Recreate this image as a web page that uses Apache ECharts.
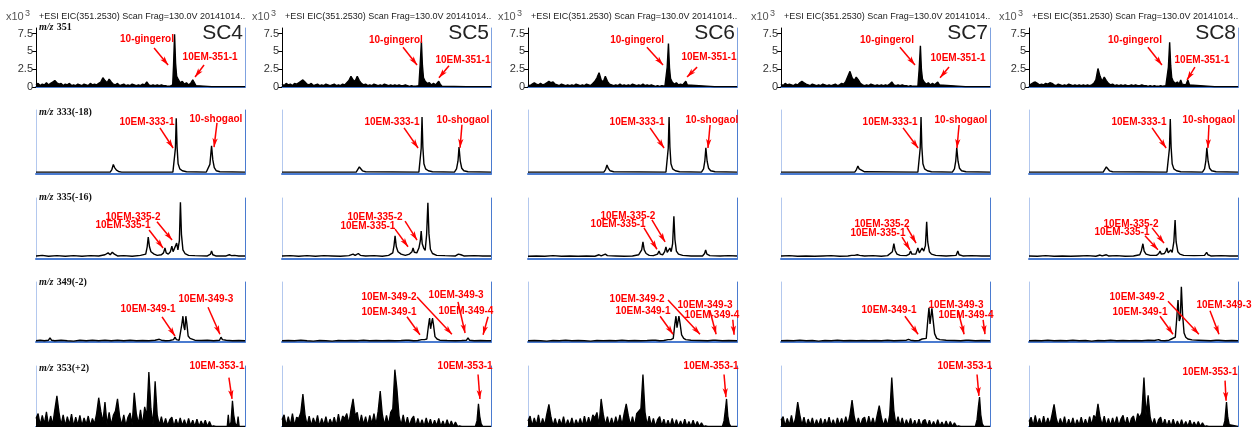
<!DOCTYPE html>
<html>
<head>
<meta charset="utf-8">
<script src="https://cdn.jsdelivr.net/npm/echarts@6/dist/echarts.min.js"></script>
<style>
html,body{margin:0;padding:0;background:#fff;}
#chart{width:1252px;height:427px;}
</style>
</head>
<body>
<div id="chart"></div>
<script>
// Samples (columns) and extracted-ion channels (rows)
const samples = ['SC4', 'SC5', 'SC6', 'SC7', 'SC8'];
const channelLabels = ['351', '333(-18)', '335(-16)', '349(-2)', '353(+2)'];
const headerText = '+ESI EIC(351.2530) Scan Frag=130.0V 20141014..';
const tickValues351 = [0, 2.5, 5, 7.5];

// ---- m/z 351 (intensity x10^3): baseline at unit steps, then peak region as [t, I] ----
const sc4_351_base = [0.3,0.5,0.2,0.4,0.3,0.6,0.3,0.5,0.7,0.9,0.6,0.4,0.5,0.2,0.4,0.3,0.5,0.2,0.3,0.2,0.4,0.3,0.2,0.4,0.3,0.2,0.5,0.3,0.4,0.3,0.5,0.7,1.3,0.9,0.6,1.1,0.7,0.4,0.3,0.5,0.2,0.3,0.4,0.2,0.3,0.2,0.4,0.3,0.2,0.3,0.2,0.4,0.3,0.7,0.3,0.2,0.3,0.2,0.3,0.2,0.3,0.2,0.2,0.1,0.1];
const sc4_351_peaks = [[65.4,0.3],[65.8,3.0],[66.3,7.4],[66.8,3.3],[67.3,1.5],[68,1.1],[69,0.6],[70,0.8],[71,0.4],[72,0.6],[73,0.3],[74,0.5],[75,1.0],[75.8,0.6],[76.5,0.2],[77.2,0.05],[84,0.05],[84.4,0.25],[84.8,0.05],[88.3,0.05],[88.7,0.25],[89.1,0.05],[100,0.05]];
const sc5_351_base = [0.4,0.2,0.5,0.3,0.4,0.2,0.5,0.4,0.6,0.8,1.0,0.7,0.4,0.3,0.5,0.2,0.3,0.4,0.2,0.3,0.2,0.4,0.3,0.2,0.3,0.4,0.2,0.3,0.2,0.4,0.3,0.6,0.9,1.5,1.0,0.8,1.5,0.9,0.5,0.3,0.4,0.2,0.3,0.2,0.4,0.3,0.2,0.3,0.2,0.4,0.3,0.2,0.3,0.2,0.3,0.2,0.3,0.2,0.2,0.3,0.2,0.1,0.2,0.1,0.1];
const sc5_351_peaks = [[65.5,0.2],[66.1,3.1],[66.7,6.4],[67.2,3.0],[67.7,1.3],[68.5,0.8],[69.5,0.5],[70.5,0.6],[71.5,0.3],[72.5,0.5],[73.5,0.3],[74.3,0.4],[75,0.8],[75.7,0.4],[76.5,0.1],[77.2,0.05],[88.2,0.05],[88.6,0.3],[89,0.05],[100,0.05]];
const sc6_351_base = [0.3,0.2,0.4,0.6,0.4,0.3,0.5,0.3,0.4,0.6,0.8,0.6,0.7,0.4,0.3,0.2,0.4,0.3,0.2,0.3,0.2,0.3,0.2,0.4,0.3,0.2,0.3,0.2,0.4,0.3,0.2,0.5,0.8,1.3,2.0,1.0,0.7,1.5,0.8,0.4,0.3,0.2,0.3,0.2,0.4,0.2,0.3,0.2,0.3,0.2,0.4,0.3,0.2,0.3,0.2,0.4,0.2,0.3,0.2,0.3,0.2,0.1,0.2,0.1,0.2];
const sc6_351_peaks = [[65.5,0.1],[66,0.2],[66.6,2.8],[67.2,6.1],[67.7,2.7],[68.2,1.2],[69,0.7],[70,0.4],[71,0.6],[72,0.3],[73,0.4],[74,0.3],[74.8,0.5],[75.5,0.8],[76.2,0.3],[77,0.05],[89.2,0.05],[89.6,0.2],[90,0.05],[100,0.05]];
const sc7_351_base = [0.4,0.2,0.5,0.3,0.4,0.3,0.2,0.4,0.3,0.6,0.8,0.6,0.4,0.3,0.2,0.4,0.3,0.2,0.3,0.2,0.4,0.3,0.2,0.3,0.2,0.3,0.4,0.2,0.3,0.5,0.4,0.8,1.5,2.2,1.3,0.9,1.4,1.0,0.5,0.3,0.2,0.3,0.2,0.4,0.3,0.2,0.3,0.2,0.3,0.2,0.3,0.2,0.4,0.7,0.3,0.2,0.3,0.2,0.3,0.2,0.2,0.1,0.2,0.1,0.1];
const sc7_351_peaks = [[65.5,0.1],[66.1,2.5],[66.7,5.8],[67.2,2.4],[67.7,1.1],[68.5,0.7],[69.5,0.4],[70.5,0.6],[71.5,0.3],[72.5,0.5],[73.5,0.3],[74.3,0.5],[75,0.7],[75.8,0.3],[76.5,0.05],[88.2,0.05],[88.6,0.3],[89,0.05],[100,0.05]];
const sc8_351_base = [0.3,0.4,0.6,0.7,0.5,0.3,0.4,0.3,0.5,0.4,0.6,0.5,0.3,0.2,0.4,0.3,0.2,0.3,0.2,0.4,0.3,0.2,0.3,0.2,0.3,0.2,0.3,0.2,0.3,0.2,0.3,0.5,1.0,2.6,1.5,0.8,1.4,0.9,0.5,0.3,0.4,0.2,0.3,0.2,0.3,0.2,0.3,0.2,0.2,0.3,0.2,0.3,0.2,0.2,0.3,0.2,0.2,0.1,0.2,0.1,0.2,0.1,0.1,0.2,0.1];
const sc8_351_peaks = [[65.5,0.2],[66.1,0.3],[66.7,2.8],[67.3,6.3],[67.8,3.0],[68.3,1.3],[69,0.8],[70,0.5],[71,0.7],[71.8,0.4],[72.6,1.0],[73.3,0.4],[74.2,0.6],[75.1,0.3],[76,1.0],[76.8,0.3],[77.6,0.05],[88.8,0.05],[89.2,0.3],[89.6,0.05],[100,0.05]];

// ---- m/z 333(-18), relative intensity [t, I] ----
const sc4_333 = [[0,3],[6.2,3],[6.7,4.5],[7.2,3],[35.5,3],[36.3,7],[37,15],[37.6,10],[38.5,6],[39.5,4],[41,3],[65.5,3],[66.2,5],[66.7,40],[67.1,87],[67.5,42],[68,16],[68.8,8],[70,5],[72,3.5],[81.5,3],[82.3,4.5],[83.2,15],[84,44],[84.6,22],[85.3,10],[86.3,5],[88,3.5],[100,3]];
const sc5_333 = [[0,3],[35.5,3],[36.3,6],[37,11],[37.6,8],[38.5,5],[40,3.5],[65.5,3],[66.2,5],[66.6,40],[67,89],[67.4,42],[67.9,16],[68.7,8],[70,5],[72,3.5],[82.5,3],[83.5,8],[84.2,20],[84.7,42],[85.3,20],[86,9],[87,5],[89,3.5],[100,3]];
const sc6_333 = [[0,3],[36.3,3],[37.1,7],[37.8,14],[38.4,9],[39.3,5],[41,3.5],[66,3],[66.7,5],[67.1,40],[67.5,89],[67.9,42],[68.4,16],[69.2,8],[70.5,5],[72.5,3.5],[83,3],[84,8],[84.6,20],[85.1,41],[85.7,20],[86.4,9],[87.4,5],[89.5,3.5],[100,3]];
const sc7_333 = [[0,3],[35.3,3],[36.1,7],[36.8,12.5],[37.4,8],[38.3,5],[40,3.5],[65.5,3],[66.2,5],[66.6,40],[67,89],[67.4,42],[67.9,16],[68.7,8],[70,5],[72,3.5],[82,3],[83,8],[83.6,20],[84.1,41],[84.7,20],[85.4,9],[86.4,5],[88.5,3.5],[100,3]];
const sc8_333 = [[0,3],[35.5,3],[36.3,6],[37,11],[37.6,8],[38.5,5],[40,3.5],[66,3],[66.8,5],[67.2,40],[67.6,86],[68,42],[68.5,16],[69.3,8],[70.6,5],[72.6,3.5],[83,3],[84,8],[84.6,20],[85.1,41],[85.7,20],[86.4,9],[87.4,5],[89.5,3.5],[100,3]];

// ---- m/z 335(-16) ----
const sc4_335 = [[0,5],[3,6],[6,4.5],[10,5.5],[14,4.5],[18,5.5],[22,4.5],[26,5.5],[30,5],[33,7],[34.5,10],[35.5,7],[36.5,11],[37.5,8],[39,5],[42,5.5],[46,4.5],[50,6],[52.5,8],[53.2,20],[53.7,36],[54.3,20],[55,12],[56.5,8],[58,6],[60,7],[61,10],[61.7,18],[62.3,10],[63.3,8],[64.3,12],[65,21],[65.6,12],[66.5,14],[67.3,26],[67.9,15],[68.6,30],[69.1,93],[69.6,40],[70.3,15],[71.3,9],[73,6],[76,5.5],[82,5],[83.5,8],[84,13],[84.6,7],[86,5],[91,5],[92.5,7],[93.5,5.5],[95,6],[97,5],[100,5]];
const sc5_335 = [[0,5],[4,5.5],[8,4.5],[12,5.5],[16,4.5],[20,5.5],[24,5],[28,4.5],[32,5.5],[34,8],[35,6],[36.5,9],[37.5,6],[40,5],[44,5.5],[48,4.5],[51,6],[53,10],[53.6,22],[54.1,38],[54.7,20],[55.5,12],[57,8],[59,6],[61,8],[62.2,12],[62.7,18],[63.3,11],[64.5,10],[65.5,18],[66.2,30],[66.6,46],[67.1,25],[67.8,18],[68.5,14],[69.2,40],[69.8,92],[70.3,42],[71,16],[72,9],[74,6],[78,5.5],[83,5],[84.4,8],[85,11],[85.6,7],[87,5],[92,5.5],[96,5],[100,5]];
const sc6_335 = [[0,4.5],[4,5],[8,4.5],[12,5.5],[16,4.5],[20,5],[24,4.5],[28,5],[32,4.5],[34,7],[35,5],[37,8],[38,5.5],[42,5],[46,4.5],[50,5],[53,7],[54.4,15],[55,28],[55.6,15],[56.5,9],[58,6],[60,5.5],[62,8],[62.7,13],[63.3,8],[64.5,7],[65.4,12],[66,20],[66.6,11],[67.3,11],[67.9,18],[68.5,12],[69.2,25],[69.8,70],[70.3,32],[71,13],[72,8],[74,6],[78,5],[83.5,5],[84.5,9],[85,15],[85.6,8],[87,5.5],[92,5],[96,5.5],[100,5]];
const sc7_335 = [[0,5],[4,5.5],[8,4.5],[12,5],[16,4.5],[20,5],[24,5.5],[28,4.5],[32,5],[33.8,6],[34.5,9],[35.2,6],[36.5,7],[37,8.5],[37.6,6],[40,5],[44,5.5],[48,4.5],[51,5.5],[53.3,12],[54,25],[54.6,14],[55.5,8],[57,6],[60,5.5],[61.4,8],[62,13],[62.6,8],[64.5,8],[65.5,18],[66.2,10],[66.8,10],[67.5,18],[68.3,13],[69.1,22],[69.7,61],[70.2,28],[71,12],[72,8],[74,6],[79,5],[83.8,6],[84.6,13],[85.2,7],[87,5],[91,5.5],[96,5],[100,5]];
const sc8_335 = [[0,5],[4,4.5],[8,5.5],[12,4.5],[16,5],[20,4.5],[24,5],[28,5.5],[32,4.5],[34,6.5],[35,5],[37,7],[38,5],[42,5.5],[46,4.5],[50,5],[53,7],[53.8,14],[54.5,25],[55.1,13],[56,8],[58,6],[61,6],[62.1,9],[62.7,13],[63.3,8],[64.8,9],[65.5,13],[66,18],[66.6,10],[67.2,9],[67.8,15],[68.5,11],[69.3,28],[69.9,64],[70.4,28],[71.2,12],[72.2,8],[74,6],[79,5.5],[84,6],[85,11],[85.6,7],[87,5],[92,5.5],[96,5],[100,5]];

// ---- m/z 349(-2) ----
const sc4_349 = [[0,2],[2,3],[4,2],[6,3],[6.7,7],[7.4,3],[9,2],[12,3],[15,2],[18,1.5],[21,3],[24,2],[27,3],[30,2],[33,3],[36,2],[39,3],[42,2],[45,3],[48,2],[51,2.5],[54,2],[57,3],[59,4.5],[60,3],[62,2],[64,2.5],[65.8,4],[66.5,8],[67.2,4],[68.5,3],[69.2,6],[69.8,30],[70.3,43],[70.8,25],[71.2,20],[71.7,43],[72.2,30],[72.8,10],[73.7,6],[74.5,4],[76,3],[79,2.5],[82,3],[85,2],[87.8,3],[88.5,8],[89.2,4],[91,3],[94,2],[97,2.5],[100,2]];
const sc5_349 = [[0,2],[3,2.5],[6,2],[9,3],[12,2],[15,1.5],[18,2.5],[21,2],[24,1.5],[27,2.5],[30,2],[33,2.5],[36,2],[39,3],[42,2],[45,2.5],[48,2],[51,2.5],[54,2],[57,2.5],[59.3,3],[60,5],[60.7,3],[63,2],[65,2.5],[66.8,4],[67.5,7],[68.2,4],[69.3,5],[70,25],[70.6,40],[71.1,22],[71.5,20],[72,40],[72.5,28],[73.2,9],[74.2,5],[75.5,3],[79,2.5],[83,2],[86,2.5],[88.3,3],[89,7],[89.7,3],[92,2],[95,2.5],[98,2],[100,2]];
const sc6_349 = [[0,2],[3,2.5],[6,2],[9,1.5],[12,2.5],[15,2],[18,3],[21,2],[24,2.5],[27,2],[30,1.5],[33,2.5],[36,2],[39,2.5],[42,2],[45,3],[48,2],[51,2.5],[54,2],[57,2.5],[59.5,3],[60.2,4.5],[61,3],[63,2],[65,2.5],[67,4],[67.7,6],[68.4,4],[69.5,6],[70.2,28],[70.8,43],[71.3,24],[71.7,22],[72.2,43],[72.8,30],[73.5,12],[74.5,6],[75.5,4],[78,3],[82,2.5],[86,2],[88.5,3],[89.1,6],[89.7,3],[93,2],[96,2.5],[100,2]];
const sc7_349 = [[0,2],[3,2.5],[6,2],[9,3],[12,2],[15,2.5],[18,1.5],[21,2.5],[24,2],[27,3],[30,2],[33,2.5],[36,2],[39,2.5],[42,2],[45,2.5],[48,2],[51,3],[54,2],[57,2.5],[60,3],[61,4.5],[62,3],[64,2],[66,2.5],[67.5,5],[68.3,3.5],[69.5,6],[70.2,35],[70.8,57],[71.3,30],[71.7,28],[72.2,56],[72.8,36],[73.5,14],[74.5,6],[76,4],[79,3],[83,2.5],[86,2],[88.5,3],[89.2,6],[89.8,3],[93,2],[96,2.5],[100,2]];
const sc8_349 = [[0,2],[3,2.5],[6,2],[9,3],[12,2],[15,2.5],[18,2],[21,3],[24,2],[27,2.5],[30,1.5],[33,2.5],[36,2],[39,3],[42,2],[45,2.5],[48,2],[51,2.5],[54,2],[57,3],[60,2.5],[62,4],[63,2.5],[65,2],[67,3],[68.2,5],[69,3.5],[70,8],[70.7,40],[71.3,70],[71.9,35],[72.4,40],[72.9,92],[73.5,45],[74.2,15],[75,8],[76,5],[78,3.5],[81,3],[84,2.5],[87,2],[89.5,3],[90.2,5],[90.8,3],[94,2],[97,2.5],[100,2]];

// ---- m/z 353(+2): noisy trace at unit steps, then the late region as [t, I] ----
const sc4_353_base = [14,22,3,19,5,25,2,18,4,28,51,24,3,20,2,17,4,21,1,16,3,19,2,15,4,18,2,14,5,22,48,26,8,41,4,24,3,19,26,46,18,3,20,2,16,23,4,56,22,5,28,3,33,18,90,30,4,75,20,3,17,2,14,2,12,16,1,13,2,15,2,12,1,14,2,11,1,13,1,10,2,11,1,9,1,2];
const sc4_353_late = [[86,1],[91.5,1],[92,20],[92.5,1],[93.3,8],[94,43],[94.6,20],[95.3,6],[96.2,2],[96.7,17],[97.2,1],[100,1]];
const sc5_353_base = [12,20,2,17,3,22,2,16,14,24,54,20,3,18,2,15,4,19,1,14,3,17,2,13,4,16,2,21,3,18,14,22,5,28,46,19,24,3,20,4,17,2,19,5,22,4,26,59,21,3,19,4,24,30,94,62,18,3,20,2,16,2,13,18,1,14,2,12,1,15,2,13,1,11,2,14,1,10,1,12,1,10,1,8,1,2];
const sc5_353_late = [[86,1],[92.5,1],[93.3,10],[94,38],[94.6,18],[95.3,5],[96,1],[100,1]];
const sc6_353_base = [10,18,2,15,3,20,1,14,3,21,37,16,2,14,1,13,3,17,1,12,2,15,1,12,3,14,2,18,3,16,4,20,15,24,3,46,21,3,17,2,15,2,17,4,20,3,22,38,19,3,17,2,22,26,30,86,24,3,18,2,14,1,12,17,2,13,1,11,1,14,1,12,1,10,1,13,1,9,1,11,1,9,1,7,1,2];
const sc6_353_late = [[86,1],[93,1],[93.8,10],[94.5,30],[95,46],[95.6,18],[96.3,5],[97,1],[100,1]];
const sc7_353_base = [11,17,2,14,3,19,2,15,41,20,3,16,1,13,3,15,1,12,2,14,1,13,3,16,2,12,1,15,3,14,2,17,4,20,44,18,3,15,2,13,16,2,18,3,15,2,19,35,16,2,14,2,20,81,27,3,17,2,15,1,12,2,14,1,11,1,13,1,10,12,1,11,1,9,1,12,1,8,1,10,1,9,1,7,1,2];
const sc7_353_late = [[86,1],[93,1],[93.8,12],[94.5,35],[95,49],[95.6,20],[96.3,5],[97,1],[100,1]];
const sc8_353_base = [9,16,2,19,3,14,2,18,3,15,4,20,37,15,2,14,3,17,1,13,2,15,1,12,3,16,2,13,2,17,3,19,14,38,16,3,18,2,14,2,15,3,17,2,13,19,3,16,2,14,18,3,22,15,24,81,20,52,16,3,14,1,12,16,2,13,1,11,1,13,1,10,1,12,1,9,1,11,1,8,1,9,1,7,1,2];
const sc8_353_late = [[86,1],[93,1],[93.7,10],[94.5,41],[95.1,16],[95.8,4],[96.5,1],[100,1]];

// ---- Peak annotations: [text, labelT, labelI, arrowFromT, arrowFromI, arrowToT, arrowToI] ----
const notes351 = [
  [['10-gingerol',53.1,6.75,56.5,5.5,63.2,3.1],['10EM-351-1',83.3,4.2,80.4,3.1,76.1,1.4]],
  [['10-gingerol',54.5,6.6,57.9,5.6,64.6,3.1],['10EM-351-1',86.6,3.8,79.9,3.0,75.1,1.3]],
  [['10-gingerol',52.2,6.6,56.9,5.6,64.6,3.1],['10EM-351-1',86.6,4.2,80.9,2.8,76.1,1.4]],
  [['10-gingerol',50.7,6.6,56.9,5.6,64.1,3.1],['10EM-351-1',84.7,4.1,80.4,2.8,76.1,1.3]],
  [['10-gingerol',50.7,6.6,56.9,5.6,63.6,3.1],['10EM-351-1',82.8,3.7,79.4,2.8,75.6,1.0]]
];
const notes333 = [
  [['10EM-333-1',53.1,81,59.3,72,65.6,40.6],['10-shogaol',86.1,86,86.6,80,85.2,42]],
  [['10EM-333-1',52.6,81,58.4,72,65.1,40.6],['10-shogaol',86.6,84,86.1,77,85.2,41]],
  [['10EM-333-1',52.2,81,58.4,72,65.1,40.6],['10-shogaol',88,84,87.1,76.6,86.1,40.6]],
  [['10EM-333-1',52.2,81,58.4,72,65.6,40.6],['10-shogaol',86.1,84,85.2,76.6,84.2,40.6]],
  [['10EM-333-1',52.6,81,58.9,72,65.6,40.6],['10-shogaol',86.1,84,86.1,76.6,85.6,40.6]]
];
const notes335 = [
  [['10EM-335-2',46.4,69,57.9,61,65.1,31],['10EM-335-1',41.6,56,54.1,47.5,60.8,18]],
  [['10EM-335-2',44.5,69,58.9,62,64.6,31],['10EM-335-1',41.1,54,54.1,49,60.3,20]],
  [['10EM-335-2',47.8,70.5,59.3,64,65.6,28],['10EM-335-1',43.1,57,55.5,51,61.7,16]],
  [['10EM-335-2',48.3,57,60.3,52,64.6,26],['10EM-335-1',46.4,43,57.9,36,61.7,15]],
  [['10EM-335-2',48.8,57,58.9,51,64.6,26],['10EM-335-1',44.5,44,55.5,38,61.7,15]]
];
const notes349 = [
  [['10EM-349-1',53.6,55,60.3,42,66.5,10],['10EM-349-3',81.3,72,82.3,58,88,13]],
  [['10EM-349-2',51.2,75,64.6,75,81.3,13],['10EM-349-1',51.2,50,59.8,42,66,12],['10EM-349-3',83.3,78,84.2,67,87.6,15],['10EM-349-4',88,52,98.6,42,96.2,12]],
  [['10EM-349-2',52.2,72,67,70,82.3,13],['10EM-349-1',55,52,63.2,43,69.4,13],['10EM-349-3',84.7,62,87,53,90,13],['10EM-349-4',88,45,98,37,98.6,12]],
  [['10EM-349-1',51.7,53,59.3,43,65.6,13],['10EM-349-3',83.7,62,84.7,52,87.6,13],['10EM-349-4',88.5,45,96.7,37,97.6,13]],
  [['10EM-349-2',51.7,75,66.5,68,81.3,13],['10EM-349-1',53.1,50,62.7,43,68.9,13],['10EM-349-3',93.3,62,86.6,52,90.9,13]]
];
const notes353 = [
  [['10EM-353-1',86.6,99.5,92.3,81,93.8,46]],
  [['10EM-353-1',87.6,99.5,93.8,86,94.7,46]],
  [['10EM-353-1',87.6,99.5,93.8,86,94.7,49]],
  [['10EM-353-1',88,99.5,93.8,86,94.7,51]],
  [['10EM-353-1',86.6,90,93.8,76,94.3,43]]
];

// ---- assemble traces ----
function joinTrace(steps, pairs) {
  return steps.map((v, i) => [i, v]).concat(pairs);
}
const traces = [
  [joinTrace(sc4_351_base, sc4_351_peaks), joinTrace(sc5_351_base, sc5_351_peaks), joinTrace(sc6_351_base, sc6_351_peaks), joinTrace(sc7_351_base, sc7_351_peaks), joinTrace(sc8_351_base, sc8_351_peaks)],
  [sc4_333, sc5_333, sc6_333, sc7_333, sc8_333],
  [sc4_335, sc5_335, sc6_335, sc7_335, sc8_335],
  [sc4_349, sc5_349, sc6_349, sc7_349, sc8_349],
  [joinTrace(sc4_353_base, sc4_353_late), joinTrace(sc5_353_base, sc5_353_late), joinTrace(sc6_353_base, sc6_353_late), joinTrace(sc7_353_base, sc7_353_late), joinTrace(sc8_353_base, sc8_353_late)]
];
const notes = [notes351, notes333, notes335, notes349, notes353];

// ---- layout ----
const colLeft = [36, 282, 528, 781, 1029];
const colWidth = 209;
const rowTop = [28, 110, 198, 282, 366];
const rowHeight = [59, 64, 61, 60, 63];
const rowMax = [8.3, 100, 100, 100, 100];
const rowLineWidth = [1.4, 1.4, 1.4, 1.4, 1.3];
// the densely sampled noisy channels read as a solid mass under the trace
const rowFilled = [true, false, false, false, true];
const RED = '#ff0000';
const SANS = '"Liberation Sans", Arial, sans-serif';
const SERIF = '"Liberation Serif", "Times New Roman", serif';

const grid = [], xAxis = [], yAxis = [], series = [];
for (let r = 0; r < 5; r++) {
  for (let c = 0; c < 5; c++) {
    const p = r * 5 + c;
    grid.push({ left: colLeft[c], top: rowTop[r], width: colWidth, height: rowHeight[r] });
    xAxis.push({
      type: 'value', gridIndex: p, min: 0, max: 100,
      axisLine: { show: true, onZero: false, lineStyle: { color: '#4a7bd0', width: 2 } },
      axisTick: { show: false }, axisLabel: { show: false }, splitLine: { show: false }
    });
    const leftAxis = {
      type: 'value', gridIndex: p, position: 'left', min: 0, max: rowMax[r],
      splitLine: { show: false }
    };
    if (r === 0) {
      leftAxis.axisLine = { show: true, lineStyle: { color: '#000', width: 1 } };
      leftAxis.axisTick = { show: true, length: 4, customValues: tickValues351, lineStyle: { color: '#000' } };
      leftAxis.axisLabel = { show: true, customValues: tickValues351, margin: 3, fontSize: 11, fontFamily: SANS, color: '#333' };
    } else {
      leftAxis.axisLine = { show: true, lineStyle: { color: '#b3c8ee', width: 1 } };
      leftAxis.axisTick = { show: false };
      leftAxis.axisLabel = { show: false };
    }
    yAxis.push(leftAxis);
    yAxis.push({
      type: 'value', gridIndex: p, position: 'right', min: 0, max: rowMax[r],
      axisLine: { show: true, lineStyle: { color: r === 0 ? '#7fa2e0' : '#4a7bd0', width: 1 } },
      axisTick: { show: false }, axisLabel: { show: false }, splitLine: { show: false }
    });
    const ann = notes[r][c];
    const s = {
      type: 'line', xAxisIndex: p, yAxisIndex: 2 * p,
      data: traces[r][c], showSymbol: false, symbol: 'none', clip: false,
      silent: true, animation: false,
      lineStyle: { color: '#000', width: rowLineWidth[r] },
      markLine: {
        silent: true, animation: false, symbol: ['none', 'arrow'], symbolSize: [4, 9],
        lineStyle: { color: RED, width: 1.5, type: 'solid' },
        label: { show: false }, emphasis: { disabled: true },
        data: ann.map(n => [{ coord: [n[3], n[4]] }, { coord: [n[5], n[6]] }])
      },
      markPoint: {
        silent: true, animation: false, symbol: 'circle', symbolSize: 1,
        itemStyle: { color: 'rgba(0,0,0,0)' },
        label: { show: true, position: 'inside', formatter: '{b}', color: RED, fontWeight: 'bold', fontSize: 10, fontFamily: SANS },
        data: ann.map(n => ({ name: n[0], coord: [n[1], n[2]] }))
      }
    };
    if (rowFilled[r]) s.areaStyle = { color: '#000', opacity: 1, origin: 'start' };
    series.push(s);
  }
}

// ---- header texts, sample names and channel labels ----
const graphic = [];
samples.forEach((s, c) => {
  const L = colLeft[c];
  graphic.push({ type: 'text', x: L - 30, y: 17, silent: true,
    style: { text: 'x10', font: '11px ' + SANS, fill: '#555', verticalAlign: 'middle' } });
  graphic.push({ type: 'text', x: L - 11, y: 14, silent: true,
    style: { text: '3', font: '9px ' + SANS, fill: '#555', verticalAlign: 'middle' } });
  graphic.push({ type: 'text', x: L + 3, y: 17, silent: true,
    style: { text: headerText, font: '9px ' + SANS, fill: '#222', verticalAlign: 'middle' } });
  graphic.push({ type: 'text', x: L + colWidth - 2, y: 33, silent: true,
    style: { text: s, font: '21px ' + SANS, fill: '#222', align: 'right', verticalAlign: 'middle' } });
});
const channelY = [27, 112, 197, 282, 368];
channelLabels.forEach((lab, r) => {
  graphic.push({ type: 'text', x: colLeft[0] + 3, y: channelY[r], silent: true,
    style: {
      text: '{i|m/z} {b|' + lab + '}', verticalAlign: 'middle',
      rich: {
        i: { font: 'italic bold 10px ' + SERIF, fill: '#111' },
        b: { font: 'bold 10px ' + SERIF, fill: '#111' }
      }
    } });
});

const chart = echarts.init(document.getElementById('chart'), null, { renderer: 'canvas' });
chart.setOption({
  backgroundColor: '#fff',
  animation: false,
  grid, xAxis, yAxis, series, graphic
});
</script>
</body>
</html>
